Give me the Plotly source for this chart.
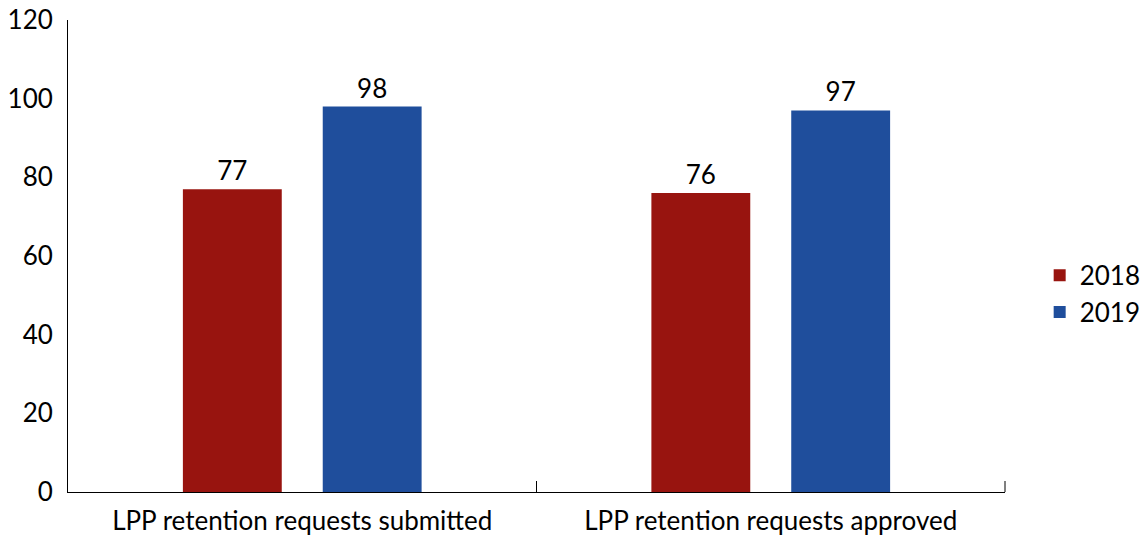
import plotly.graph_objects as go

categories = ["LPP retention requests submitted", "LPP retention requests approved"]
years = ["2018", "2019"]
values_2018 = [77, 76]
values_2019 = [98, 97]
y_ticks = [0, 20, 40, 60, 80, 100, 120]

COLORS = {"2018": "#98140F", "2019": "#1F4E9C"}
FONT = "Lato, 'Open Sans', sans-serif"
FS = 26

fig = go.Figure()
for year, vals in zip(years, [values_2018, values_2019]):
    fig.add_trace(go.Bar(
        name=year, x=categories, y=vals,
        marker=dict(color=COLORS[year], line=dict(width=0)),
        text=[str(v) for v in vals], textposition="outside",
        textfont=dict(size=FS, color="black", family=FONT),
        cliponaxis=False,
    ))

fig.update_layout(
    barmode="group", bargap=0.403, bargroupgap=0.293,
    width=1145, height=535,
    margin=dict(l=68, r=140, t=20, b=43, autoexpand=False),
    paper_bgcolor="white", plot_bgcolor="white",
    font=dict(family=FONT, size=FS, color="black"),
    legend=dict(x=1.037, y=0.42, xanchor="left", yanchor="middle",
                font=dict(size=FS), itemwidth=30, tracegroupgap=6),
    showlegend=True,
)
fig.update_xaxes(
    showline=True, linecolor="black", linewidth=1,
    ticks="inside", tickson="boundaries", ticklen=11, tickcolor="black",
    showgrid=False, tickfont=dict(size=FS), automargin=False,
    ticklabelstandoff=6,
)
fig.update_yaxes(
    range=[0, 120], tickvals=y_ticks, showgrid=False, zeroline=False,
    showline=True, linecolor="black", linewidth=1, ticks="",
    ticklabelstandoff=9, tickfont=dict(size=FS), automargin=False,
)
# closing boundary tick at the right end of the category axis
fig.add_shape(type="line", xref="x domain", yref="y domain",
              x0=1, x1=1, y0=0, y1=11 / 472,
              line=dict(color="black", width=1))

# drop the page's default body margin so the figure sits at the window origin
fig.write_html("out.html", config={"displayModeBar": False},
               post_script="document.body.style.margin='0';"
                           "document.body.style.overflow='hidden';")
